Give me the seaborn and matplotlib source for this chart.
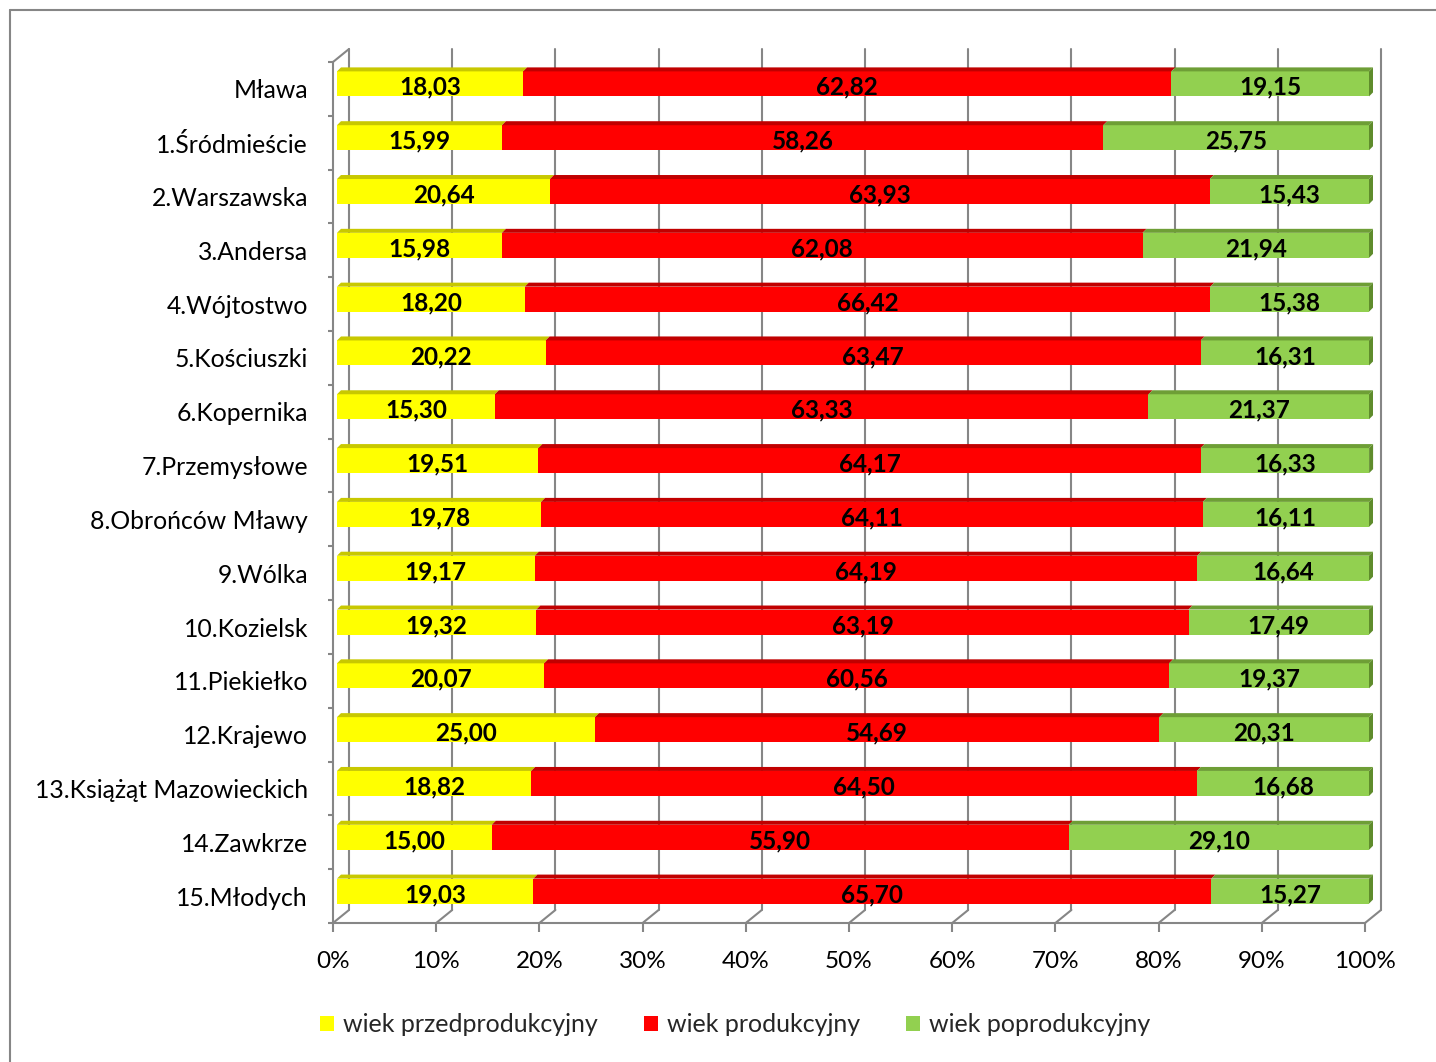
import matplotlib.pyplot as plt
import matplotlib.transforms as mtransforms
from matplotlib.patches import Polygon, Patch
from matplotlib.lines import Line2D
import pandas as pd
import seaborn as sns

# Data
districts = ['Mława', '1.Śródmieście', '2.Warszawska', '3.Andersa', '4.Wójtostwo',
             '5.Kościuszki', '6.Kopernika', '7.Przemysłowe', '8.Obrońców Mławy',
             '9.Wólka', '10.Kozielsk', '11.Piekiełko', '12.Krajewo',
             '13.Książąt Mazowieckich', '14.Zawkrze', '15.Młodych']
pre_prod = [18.03, 15.99, 20.64, 15.98, 18.20, 20.22, 15.30, 19.51, 19.78,
            19.17, 19.32, 20.07, 25.00, 18.82, 15.00, 19.03]
prod = [62.82, 58.26, 63.93, 62.08, 66.42, 63.47, 63.33, 64.17, 64.11,
        64.19, 63.19, 60.56, 54.69, 64.50, 55.90, 65.70]
post_prod = [19.15, 25.75, 15.43, 21.94, 15.38, 16.31, 21.37, 16.33, 16.11,
             16.64, 17.49, 19.37, 20.31, 16.68, 29.10, 15.27]
series_names = ['wiek przedprodukcyjny', 'wiek produkcyjny', 'wiek poprodukcyjny']
x_ticks = list(range(0, 101, 10))

face_colors = ['#FFFF00', '#FF0000', '#92D050']
top_colors = ['#C8C800', '#C00000', '#6E9E36']
side_color = '#5F8C2C'
grid = '#868686'

sns.set_style('white')
plt.rcParams['font.family'] = ['Lato', 'DejaVu Sans']

DPI = 100
W, H = 1436, 1062
fig = plt.figure(figsize=(W / DPI, H / DPI), dpi=DPI)
ax = fig.add_axes([333 / W, 1 - 923 / H, 1032 / W, 861 / H])

df = pd.DataFrame({'district': districts, 'pre': pre_prod, 'prod': prod, 'post': post_prod})
df['c1'] = df['pre']
df['c2'] = df['pre'] + df['prod']
df['c3'] = df['c2'] + df['post']

# stacked bars by overlapping cumulative sums (longest first)
bar_h = 0.465
for col, color in zip(['c3', 'c2', 'c1'], face_colors[::-1]):
    sns.barplot(data=df, x=col, y='district', orient='h', color=color,
                saturation=1, width=bar_h, linewidth=0, ax=ax)

ax.set_xlim(0, 100)
ax.set_ylim(15.5, -0.5)
ax.set_xlabel('')
ax.set_ylabel('')

# pixel -> data units
ux = 100 / 1032
uy = 16 / 861
shift = mtransforms.ScaledTranslation(4 / DPI, 5 / DPI, fig.dpi_scale_trans)
bar_tr = ax.transData + shift
for p in ax.patches:
    p.set_transform(bar_tr)
    p.set_clip_on(False)

# 3D top faces, side face and value labels
tdx, tdy = 4 * ux, 4 * uy
text_tr = ax.transData + mtransforms.ScaledTranslation(4 / DPI, 1.5 / DPI, fig.dpi_scale_trans)
for i in range(len(districts)):
    vals = [pre_prod[i], prod[i], post_prod[i]]
    start = 0
    yt = i - bar_h / 2
    yb = i + bar_h / 2
    for j, v in enumerate(vals):
        end = start + v
        ax.add_patch(Polygon([(start, yt), (end, yt), (end + tdx, yt - tdy), (start + tdx, yt - tdy)],
                             closed=True, facecolor=top_colors[j], edgecolor='none',
                             transform=bar_tr, clip_on=False, zorder=2))
        ax.text(start + v / 2, i, f'{v:.2f}'.replace('.', ','), ha='center', va='center',
                fontsize=17.5, fontweight='bold', color='black',
                transform=text_tr, zorder=3)
        start = end
    ax.add_patch(Polygon([(start, yt), (start + tdx, yt - tdy), (start + tdx, yb - tdy), (start, yb)],
                         closed=True, facecolor=side_color, edgecolor='none',
                         transform=bar_tr, clip_on=False, zorder=2))

# back wall gridlines and floor diagonals
DX, DY = 16 * ux, 13 * uy
for x in x_ticks:
    ax.plot([x + DX, x + DX], [-0.5 - DY, 15.5 - DY], color=grid, lw=1.5, clip_on=False, zorder=0.5)
    ax.plot([x, x + DX], [15.5, 15.5 - DY], color=grid, lw=1.5, clip_on=False, zorder=0.5)
ax.plot([0, DX], [-0.5, -0.5 - DY], color=grid, lw=1.5, clip_on=False, zorder=0.5)

# axes styling
for s in ['top', 'right']:
    ax.spines[s].set_visible(False)
for s in ['left', 'bottom']:
    ax.spines[s].set_color(grid)
    ax.spines[s].set_linewidth(1.5)

ax.set_xticks(x_ticks)
ax.set_xticklabels([f'{x}%' for x in x_ticks])
ax.tick_params(axis='x', bottom=True, length=6.5, width=1.5, color=grid,
               labelsize=17.5, labelcolor='black', pad=14)
ax.set_yticks(range(len(districts)))
ax.set_yticklabels(districts)
ax.set_yticks([k - 0.5 for k in range(len(districts) + 1)], minor=True)
ax.tick_params(axis='y', which='major', left=False, length=0, labelsize=17.8,
               labelcolor='black', pad=18)
ax.tick_params(axis='y', which='minor', left=True, length=3.6, width=1.5, color=grid)

# legend
handles = [Patch(facecolor=c, edgecolor='none', label=n) for c, n in zip(face_colors, series_names)]
fig.legend(handles=handles, loc='center', bbox_to_anchor=(0.512, 0.035), ncol=3,
           frameon=False, fontsize=18, handlelength=0.56, handleheight=0.56,
           handletextpad=0.36, columnspacing=1.85)

# outer chart border
fig.add_artist(Line2D([10 / W, 10 / W], [0, 1 - 10 / H], transform=fig.transFigure, color=grid, lw=1.5))
fig.add_artist(Line2D([10 / W, 1], [1 - 10 / H, 1 - 10 / H], transform=fig.transFigure, color=grid, lw=1.5))

fig.savefig('out.png', dpi=DPI)
